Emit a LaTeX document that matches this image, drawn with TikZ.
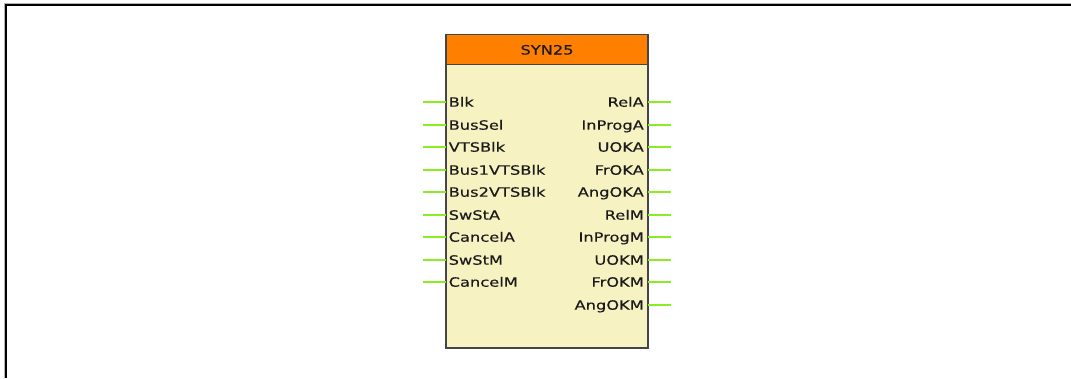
\documentclass[tikz,border=0pt]{standalone}
\usepackage{fontspec}
\newfontfamily\blkfont[FakeStretch=1.27,FakeBold=0.4]{DejaVu Sans}
\definecolor{hdr}{HTML}{FF8000}
\definecolor{bodyc}{HTML}{F7F2C2}
\definecolor{edge}{HTML}{454545}
\definecolor{pin}{HTML}{88EE22}
\definecolor{txt}{HTML}{1A1A1A}
\begin{document}
\begin{tikzpicture}[x=1pt,y=-1pt,
  lbl/.style={inner sep=0pt, font=\blkfont\fontsize{12.8}{14}\selectfont, text=txt},
  inlbl/.style={lbl, anchor=base west},
  outlbl/.style={lbl, anchor=base east},
  pinline/.style={draw=pin, line width=2pt}]
\useasboundingbox (0,0) rectangle (1071,378);
\fill[white] (0,0) rectangle (1071,378);
% frame
\draw[gray!60, line width=1pt] (4.5,378) -- (4.5,3.5) -- (1071,3.5);
\draw[black, line width=2pt] (6,378) -- (6,5) -- (1071,5);
% block
\fill[bodyc] (446,64.5) rectangle (648,348);
\fill[hdr] (446,34.5) rectangle (648,64.5);
\draw[edge, line width=1.5pt] (446,34.5) rectangle (648,348);
\draw[edge, line width=1.2pt] (446,64.5) -- (648,64.5);
\node[lbl, anchor=base] (title) at (547,54.5) {SYN25};
% inputs
\foreach \t [count=\i from 0] in {Blk,BusSel,VTSBlk,Bus1VTSBlk,Bus2VTSBlk,SwStA,CancelA,SwStM,CancelM}{
  \pgfmathsetmacro\yy{round(102+22.55*\i)}
  \coordinate (inA\i) at (423,\yy);
  \coordinate (inB\i) at (446,\yy);
  \node[inlbl] (in\i) at (448.5,\yy+4.7) {\t};
  \draw[pinline] (inA\i) -- (inB\i);
}
% outputs
\foreach \t [count=\i from 0] in {RelA,InProgA,UOKA,FrOKA,AngOKA,RelM,InProgM,UOKM,FrOKM,AngOKM}{
  \pgfmathsetmacro\yy{round(102+22.55*\i)}
  \coordinate (outA\i) at (648,\yy);
  \coordinate (outB\i) at (671,\yy);
  \node[outlbl] (out\i) at (644,\yy+4.7) {\t};
  \draw[pinline] (outA\i) -- (outB\i);
}
\end{tikzpicture}
\end{document}
